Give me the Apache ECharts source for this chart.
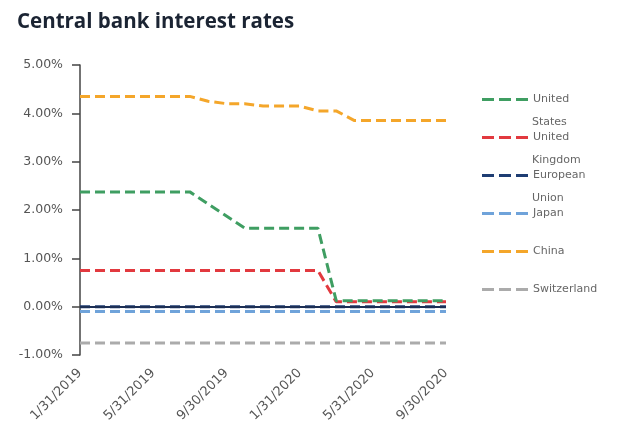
<!DOCTYPE html>
<html>
<head>
<meta charset="utf-8">
<script src="https://cdn.jsdelivr.net/npm/echarts@6/dist/echarts.min.js"></script>
<style>
  html, body { margin: 0; padding: 0; background: #fff; }
  #chart { width: 622px; height: 440px; }
</style>
</head>
<body>
<div id="chart"></div>
<script>
// Month-end observation dates
var months = [
  '1/31/2019', '2/28/2019', '3/31/2019', '4/30/2019', '5/31/2019', '6/30/2019',
  '7/31/2019', '8/31/2019', '9/30/2019', '10/31/2019', '11/30/2019', '12/31/2019',
  '1/31/2020', '2/29/2020', '3/31/2020', '4/30/2020', '5/31/2020', '6/30/2020',
  '7/31/2020', '8/31/2020', '9/30/2020'
];

// Policy rates, percent
var unitedStates = [2.375, 2.375, 2.375, 2.375, 2.375, 2.375, 2.375, 2.125, 1.875, 1.625, 1.625, 1.625, 1.625, 1.625, 0.125, 0.125, 0.125, 0.125, 0.125, 0.125, 0.125];
var unitedKingdom = [0.75, 0.75, 0.75, 0.75, 0.75, 0.75, 0.75, 0.75, 0.75, 0.75, 0.75, 0.75, 0.75, 0.75, 0.1, 0.1, 0.1, 0.1, 0.1, 0.1, 0.1];
var europeanUnion = [0, 0, 0, 0, 0, 0, 0, 0, 0, 0, 0, 0, 0, 0, 0, 0, 0, 0, 0, 0, 0];
var japan = [-0.1, -0.1, -0.1, -0.1, -0.1, -0.1, -0.1, -0.1, -0.1, -0.1, -0.1, -0.1, -0.1, -0.1, -0.1, -0.1, -0.1, -0.1, -0.1, -0.1, -0.1];
var china = [4.35, 4.35, 4.35, 4.35, 4.35, 4.35, 4.35, 4.25, 4.2, 4.2, 4.15, 4.15, 4.15, 4.05, 4.05, 3.85, 3.85, 3.85, 3.85, 3.85, 3.85];
var switzerland = [-0.75, -0.75, -0.75, -0.75, -0.75, -0.75, -0.75, -0.75, -0.75, -0.75, -0.75, -0.75, -0.75, -0.75, -0.75, -0.75, -0.75, -0.75, -0.75, -0.75, -0.75];

// Legend names: first line shown by the legend, second line drawn below it
var seriesNames = ['United States', 'United Kingdom', 'European Union', 'Japan', 'China', 'Switzerland'];
var legendFirst = ['United', 'United', 'European', 'Japan', 'China', 'Switzerland'];
var legendSecond = ['States', 'Kingdom', 'Union', '', '', ''];

var TITLE_FONT = '"Open Sans", Lato, sans-serif';
var FONT = '"DejaVu Sans", Verdana, sans-serif';
var DASH = [10, 5];
// three short dashes used as the legend key
var DASH_ICON = 'path://M0,0h12v3h-12z M17,0h12v3h-12z M34,0h12v3h-12z';

function rateSeries(name, data, color, z) {
  return {
    name: name,
    type: 'line',
    data: data,
    symbol: 'none',
    z: z,
    lineStyle: { color: color, width: 3, type: DASH },
    itemStyle: { color: color }
  };
}

var euSeries = rateSeries('European Union', europeanUnion, '#1e3d73', 4);
// solid zero line across the plot
euSeries.markLine = {
  silent: true,
  symbol: 'none',
  label: { show: false },
  lineStyle: { color: '#1c2f55', width: 1.8, type: 'solid' },
  data: [{ yAxis: 0 }]
};

var chart = echarts.init(document.getElementById('chart'));
chart.setOption({
  animation: false,
  backgroundColor: '#ffffff',
  title: {
    text: 'Central bank interest rates',
    left: 12,
    top: 7,
    textStyle: { fontFamily: TITLE_FONT, fontSize: 20.5, fontWeight: 'bold', color: '#1b2433' }
  },
  grid: { left: 80, right: 176, top: 65, bottom: 85, containLabel: false },
  legend: {
    orient: 'vertical',
    left: 477,
    top: 89,
    icon: DASH_ICON,
    itemWidth: 46,
    itemHeight: 3,
    itemGap: 27,
    data: seriesNames,
    formatter: function (name) {
      return legendFirst[seriesNames.indexOf(name)];
    },
    textStyle: { fontFamily: FONT, fontSize: 11, color: '#666666' }
  },
  graphic: legendSecond.map(function (t, i) {
    return {
      type: 'text',
      left: 532,
      top: 117 + i * 38,
      silent: true,
      style: { text: t, fontFamily: FONT, fontSize: 11, fill: '#666666' }
    };
  }),
  xAxis: {
    type: 'category',
    data: months,
    boundaryGap: false,
    axisLine: { show: false },
    axisTick: { show: false },
    axisLabel: {
      interval: 3,
      rotate: 45,
      margin: 16,
      fontFamily: FONT,
      fontSize: 13,
      color: '#555555'
    }
  },
  yAxis: {
    type: 'value',
    min: -1,
    max: 5,
    interval: 1,
    splitLine: { show: false },
    axisLine: { show: true, lineStyle: { color: '#444444', width: 1.5 } },
    axisTick: { show: true, length: 8, lineStyle: { color: '#444444', width: 1.5 } },
    axisLabel: {
      margin: 17,
      fontFamily: FONT,
      fontSize: 12.5,
      color: '#555555',
      formatter: function (v) { return v.toFixed(2) + '%'; }
    }
  },
  series: [
    rateSeries('United States', unitedStates, '#3f9e62', 6),
    rateSeries('United Kingdom', unitedKingdom, '#e2393f', 5),
    euSeries,
    rateSeries('Japan', japan, '#6fa3da', 3),
    rateSeries('China', china, '#f4a62a', 2),
    rateSeries('Switzerland', switzerland, '#ababab', 1)
  ]
});
</script>
</body>
</html>
